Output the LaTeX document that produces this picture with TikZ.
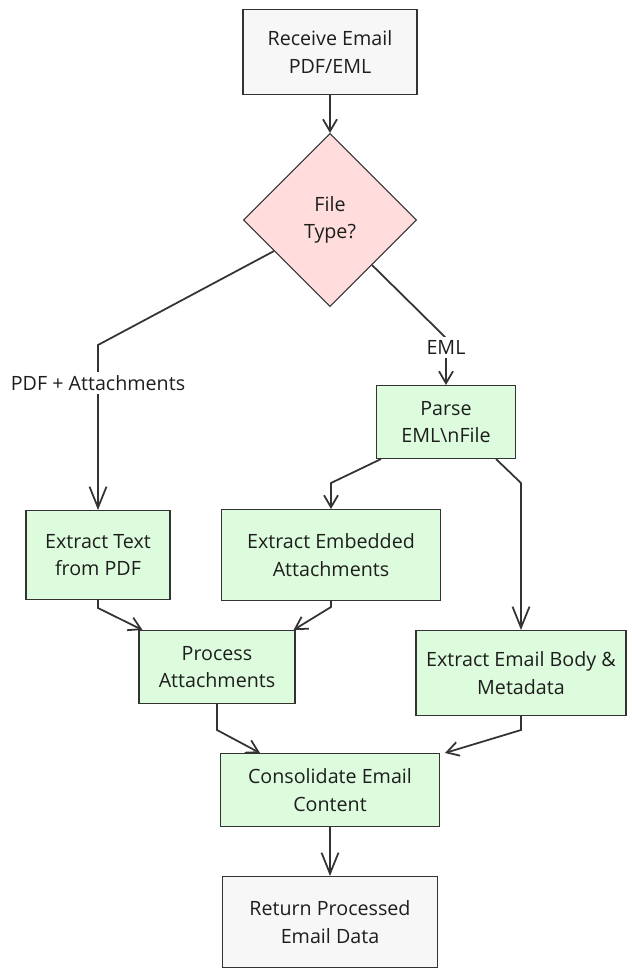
\documentclass[tikz,border=0pt]{standalone}
\usepackage{fontspec}
\setmainfont{Open Sans}
\usetikzlibrary{positioning,shapes.geometric,arrows.meta}
\definecolor{stepFill}{RGB}{221,252,221}
\definecolor{decisionFill}{RGB}{255,221,221}
\definecolor{terminalFill}{RGB}{247,247,247}
\definecolor{lineColor}{RGB}{51,51,51}
\definecolor{textColor}{RGB}{30,30,30}
\tikzstyle{flowchart} = [x = 0.02cm, y = -0.02cm, font=\fontsize{11.2}{15.5}\selectfont]
\tikzstyle{baseBox} = [draw=lineColor, line width=0.6pt, align=center, text=textColor, inner sep=0pt]
\tikzstyle{stepBox} = [baseBox, fill=stepFill]
\tikzstyle{terminalBox} = [baseBox, fill=terminalFill]
\tikzstyle{decisionBox} = [baseBox, fill=decisionFill, diamond, minimum width=3.46cm, minimum height=3.46cm]
\tikzstyle{flowArrow} = [draw=lineColor, line width=1pt, -{Straight Barb[length=0.24cm, width=0.28cm]}]
\tikzstyle{bigArrow} = [draw=lineColor, line width=1pt, -{Straight Barb[length=0.42cm, width=0.34cm]}]
\tikzstyle{edgeLabel} = [fill=white, text=textColor, inner sep=2pt]

\begin{document}
\begin{tikzpicture}[flowchart]
        \fill [white] (0,0) rectangle (632,978);
        \useasboundingbox (0,0) rectangle (632,978);

        % nodes
        \node [terminalBox, minimum width=3.48cm, minimum height=1.70cm] (receiveEmail) at (330,52) {Receive Email\\PDF/EML};
        \node [decisionBox] (fileType) at (330,220) {File\\Type?};
        \node [stepBox, minimum width=2.78cm, minimum height=1.46cm] (parseEml) at (446,422) {Parse\\EML\textbackslash nFile};
        \node [stepBox, minimum width=2.88cm, minimum height=1.78cm] (extractText) at (98,555) {Extract Text\\from PDF};
        \node [stepBox, minimum width=4.38cm, minimum height=1.82cm] (extractEmbedded) at (331,555) {Extract Embedded\\Attachments};
        \node [stepBox, minimum width=3.12cm, minimum height=1.46cm] (processAtt) at (217,667) {Process\\Attachments};
        \node [stepBox, minimum width=4.20cm, minimum height=1.70cm] (extractBody) at (521,673) {Extract Email Body \&\\Metadata};
        \node [stepBox, minimum width=4.38cm, minimum height=1.46cm] (consolidate) at (330,790) {Consolidate Email\\Content};
        \node [terminalBox, minimum width=4.30cm, minimum height=1.82cm] (returnData) at (330,922) {Return Processed\\Email Data};

        % connectors
        \draw [flowArrow] (receiveEmail) -- (fileType);
        \draw [bigArrow] (fileType.209) -- (98,345) -- node [edgeLabel, pos=0.23] {PDF + Attachments} (extractText);
        \draw [flowArrow] (fileType.313) -- (446,338) -- node [edgeLabel, pos=0.2] {EML} (parseEml);
        \draw [flowArrow] ([xshift=0.1cm]parseEml.south west) -- (331,483) -- (extractEmbedded);
        \draw [bigArrow] ([xshift=-0.4cm]parseEml.south east) -- (521,483) -- (extractBody);
        \draw [flowArrow] (extractText) -- (98,608) -- ([xshift=0.08cm]processAtt.north west);
        \draw [flowArrow] (extractEmbedded) -- (331,607) -- ([xshift=-0.04cm]processAtt.north east);
        \draw [flowArrow] (processAtt) -- (217,730) -- ([xshift=0.8cm]consolidate.north west);
        \draw [flowArrow] (extractBody) -- (521,730) -- ([xshift=0.1cm]consolidate.north east);
        \draw [bigArrow] (consolidate) -- (returnData);
      \end{tikzpicture}
\end{document}
